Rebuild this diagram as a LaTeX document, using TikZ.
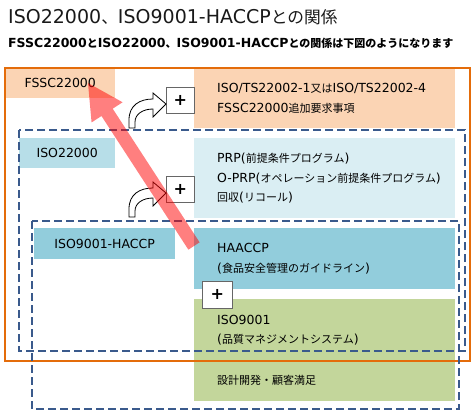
\documentclass[tikz,border=0pt]{standalone}
\usepackage{fontspec}
\setmainfont{DejaVu Sans}
\newfontfamily\jp{Noto Sans CJK JP}[Scale=0.88]
\usetikzlibrary{calc}
\definecolor{fsscfill}{HTML}{FBD4B4}
\definecolor{isofill}{HTML}{B7DEE8}
\definecolor{prpfill}{HTML}{DAEEF3}
\definecolor{haccpfill}{HTML}{92CDDC}
\definecolor{qmsfill}{HTML}{C3D69B}
\definecolor{fsscline}{HTML}{E46C0A}
\definecolor{isoline}{HTML}{3A5A8C}
\begin{document}
\begin{tikzpicture}[x=1pt,y=-1pt,
		every node/.style={inner sep=0pt},
		lbox/.style={anchor=north west, font=\fontsize{12.5}{19.5}\selectfont},
		rbox/.style={anchor=north west, minimum width=261pt, inner xsep=23pt, text width=215pt, align=left, font=\fontsize{12.5}{19.5}\selectfont},
		plusbox/.style={anchor=north west, fill=white, draw=black!60, line width=0.8pt, font=\fontsize{16}{16}\selectfont\bfseries},
		dashbox/.style={draw=isoline, line width=2pt, dash pattern=on 8pt off 4pt},
		bentarrow/.pic={\draw[fill=white, line width=0.8pt] (0,0) -- (0,-8) .. controls (0,-23) and (11,-29) .. (24,-29) -- (24,-35) -- (37,-24) -- (24,-11) -- (24,-19) .. controls (14,-19) and (6,-14) .. (6,-6) -- (6,0) -- cycle;},
		redarrow/.style={fill=red, fill opacity=0.5}]
	\useasboundingbox (0,0) rectangle (476,416);
	% titles
	\node[anchor=base west, text=black!90, font=\fontsize{19}{22}\selectfont] (title) at (8,23) {ISO22000{\jp 、}ISO9001-HACCP{\jp との関係}};
	\node[anchor=base west, font=\fontsize{12.5}{15}\selectfont\bfseries] (subtitle) at (8,47) {FSSC22000{\jp と}ISO22000{\jp 、}ISO9001-HACCP{\jp との関係は下図のようになります}};
	% left labels
	\node[lbox, fill=fsscfill, minimum width=110pt, minimum height=30pt] (fsscbox) at (5,68) {FSSC22000};
	\node[lbox, fill=isofill, minimum width=96pt, minimum height=30pt] (isobox) at (19,138) {ISO22000};
	\node[lbox, fill=haccpfill, minimum width=141pt, minimum height=31pt] (haccpbox) at (34,228) {ISO9001-HACCP};
	% right contents
	\node[rbox, fill=fsscfill, minimum height=60pt] (fsscreq) at (194,68) {ISO/TS22002-1{\jp 又は}ISO/TS22002-4\\FSSC22000{\jp 追加要求事項}};
	\node[rbox, fill=prpfill, minimum height=80pt] (prpreq) at (194,138) {PRP({\jp 前提条件プログラム})\\\mbox{O-PRP({\jp オペレーション前提条件プログラム})}\\{\jp 回収}({\jp リコール})};
	\node[rbox, fill=haccpfill, minimum height=61pt] (haccpreq) at (194,228) {HAACCP\\({\jp 食品安全管理のガイドライン})};
	\node[rbox, fill=qmsfill, minimum height=102pt] (qmsreq) at (194,299) {ISO9001\\({\jp 品質マネジメントシステム})\\[21pt]{\jp 設計開発・顧客満足}};
	% scopes
	\draw[fsscline, line width=2pt] (4.5,67.5) rectangle (470,361);
	\draw[dashbox] (19,130) rectangle (465,351);
	\draw[dashbox] (32,221) rectangle (459,409);
	% additions
	\node[plusbox, minimum width=28pt, minimum height=26pt] (plusa) at (166,87) {+};
	\node[plusbox, minimum width=28pt, minimum height=26pt] (plusb) at (166,176) {+};
	\node[plusbox, minimum width=30pt, minimum height=27pt] (plusc) at (202,281) {+};
	\pic at (129,128) {bentarrow};
	\pic at (129,217) {bentarrow};
	% big arrow
	\coordinate (redtail) at (194,246);
	\coordinate (redtip) at (88,83);
	\coordinate (redbase) at ($(redtip)!35pt!(redtail)$);
	\fill[redarrow] ($(redtail)!6.7pt!90:(redtip)$) -- ($(redbase)!6.7pt!90:(redtip)$) -- ($(redbase)!18.5pt!90:(redtip)$) -- (redtip) -- ($(redbase)!18.5pt!-90:(redtip)$) -- ($(redbase)!6.7pt!-90:(redtip)$) -- ($(redtail)!6.7pt!-90:(redtip)$) -- cycle;
\end{tikzpicture}
\end{document}
